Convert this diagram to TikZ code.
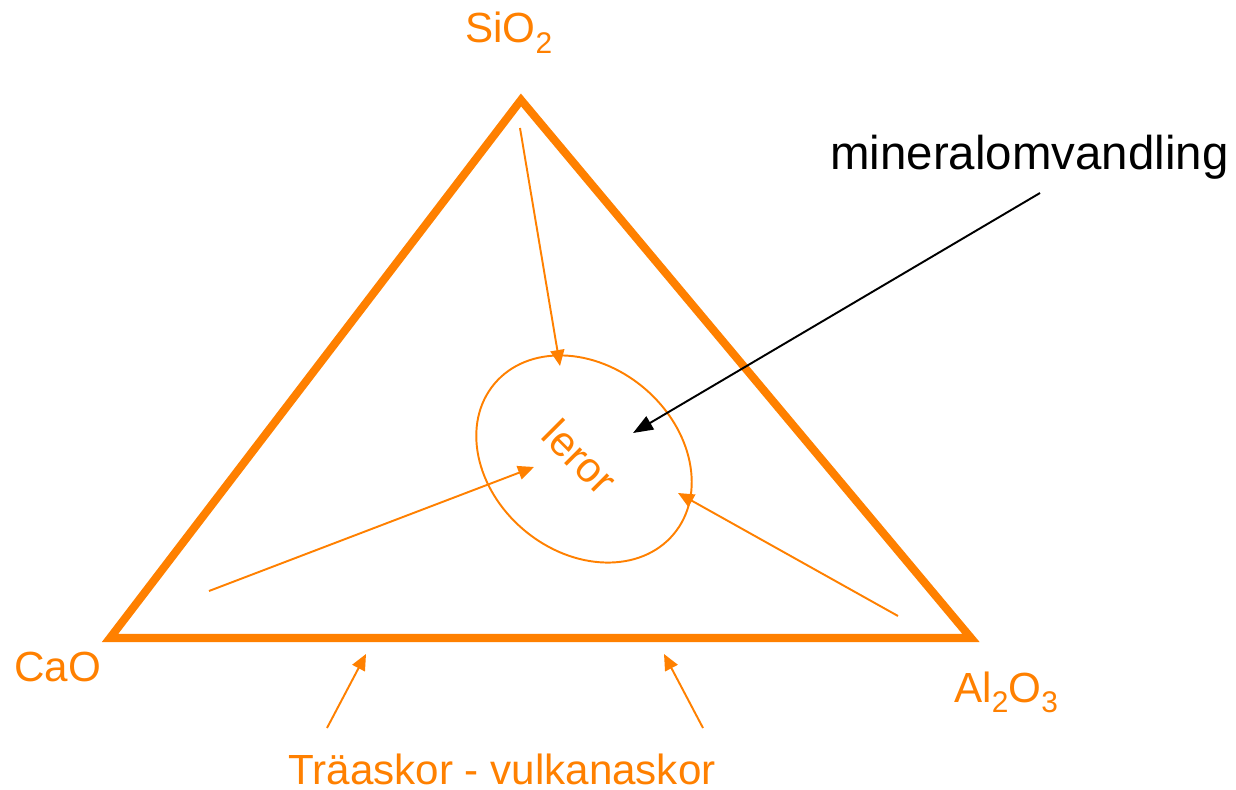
\documentclass[tikz,border=0pt]{standalone}
\usepackage{fontspec}
\setmainfont{Liberation Sans}
\usetikzlibrary{arrows.meta}
\definecolor{org}{RGB}{255,128,0}
\newcommand{\mysub}[1]{\raisebox{-0.24em}{\fontsize{17}{17}\selectfont #1}}
\begin{document}
\begin{tikzpicture}[x=0.02cm,y=-0.02cm,
  tri/.style={draw=org,line width=4.6pt,line join=miter},
  thinarrow/.style={draw=org,line width=1.1pt,-{Triangle[length=0.32cm,width=0.28cm]}},
  blackarrow/.style={draw=black,line width=1.1pt,-{Triangle[length=0.4cm,width=0.3cm]}},
  lab/.style={text=org,inner sep=0pt,font=\fontsize{24}{28}\selectfont},
  blab/.style={text=black,inner sep=0pt,font=\fontsize{27}{30}\selectfont}]
\useasboundingbox (0,0) rectangle (1236,790);
% triangle
\coordinate (A) at (521,100);
\coordinate (B) at (110,638);
\coordinate (C) at (971,638);
\draw[tri] (A) -- (B) -- (C) -- cycle;
% ellipse
\coordinate (E) at (584,459);
\draw[org,line width=1.1pt,rotate around={-40:(E)}] (E) ellipse [x radius=2.34cm, y radius=1.86cm];
% arrows
\coordinate (s1) at (520,128);
\coordinate (t1) at (560,366);
\coordinate (s2) at (209,591);
\coordinate (t2) at (534,467);
\coordinate (s3) at (898,616);
\coordinate (t3) at (678,493);
\coordinate (s4) at (327,728);
\coordinate (t4) at (366,654);
\coordinate (s5) at (703,728);
\coordinate (t5) at (664,654);
\coordinate (s6) at (1040,193);
\coordinate (t6) at (633,433);
\draw[thinarrow] (s1) -- (t1);
\draw[thinarrow] (s2) -- (t2);
\draw[thinarrow] (s3) -- (t3);
\draw[thinarrow] (s4) -- (t4);
\draw[thinarrow] (s5) -- (t5);
\draw[blackarrow] (s6) -- (t6);
% labels
\node[lab,anchor=base west] (sio) at (465,43) {SiO\mysub{2}};
\node[blab,anchor=base west] (mv) at (830,170) {mineralomvandling};
\node[lab,anchor=base west] (cao) at (14,681) {CaO};
\node[lab,anchor=base west] (al) at (954,702) {Al\mysub{2}O\mysub{3}};
\node[lab,anchor=base west] (tr) at (288,784) {Träaskor - vulkanaskor};
\node[lab,rotate=-45] (ler) at (580,457) {leror};
\end{tikzpicture}
\end{document}
